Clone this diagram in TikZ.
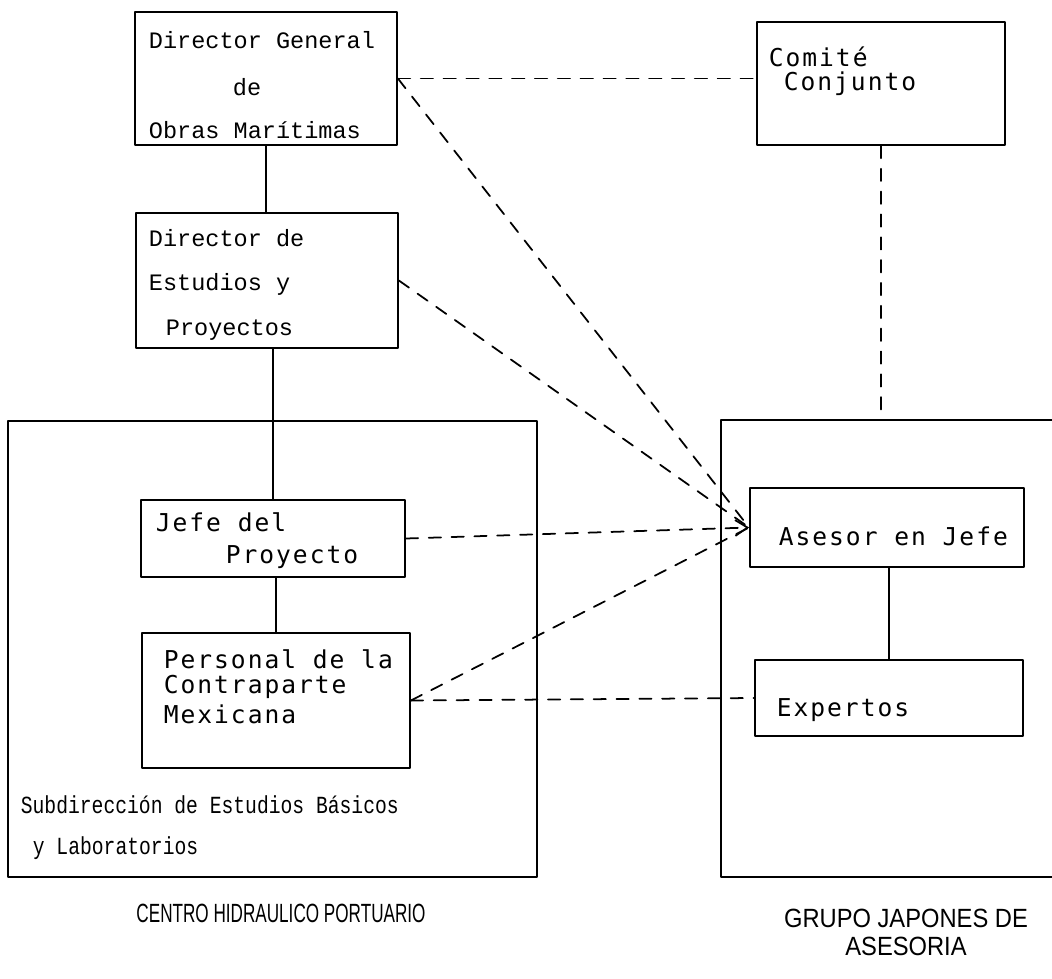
\documentclass[tikz,border=0pt]{standalone}
\usepackage{fontspec}
\usetikzlibrary{fit,arrows.meta}
\newfontfamily\typefont{Liberation Mono}
\newfontfamily\narrowfont[FakeStretch=0.8]{Liberation Mono}
\newfontfamily\gothfont[LetterSpace=8]{DejaVu Sans Mono}
\newfontfamily\capsfont[FakeStretch=0.65]{Liberation Sans}
\newfontfamily\grupofont[FakeStretch=0.9]{Liberation Sans}
\begin{document}
\begin{tikzpicture}[x=0.02cm, y=-0.02cm, line width=1pt, line join=round, line cap=round,
  >={Straight Barb[length=7pt,width=9pt]},
  box/.style={draw, inner sep=0pt},
  dsh/.style={dash pattern=on 7pt off 6pt},
  txt/.style={anchor=west, inner sep=0pt},
  tw/.style={txt, font=\typefont\fontsize{13.4}{16}\selectfont},
  gw/.style={txt, font=\gothfont\fontsize{14}{16}\selectfont},
  nw/.style={txt, font=\narrowfont\fontsize{14}{16}\selectfont},
  cw/.style={anchor=center, inner sep=0pt, font=\capsfont\fontsize{15}{17}\selectfont},
  gj/.style={cw, font=\grupofont\fontsize{15}{17}\selectfont}]
\useasboundingbox (0,0) rectangle (1052,978);
\clip (0,0) rectangle (1052,978);
% boxes
\node[box, fit={(135,12) (397,145)}] (dg) {};
\node[box, fit={(757,22) (1005,145)}] (cc) {};
\node[box, fit={(136,213) (398,348)}] (de) {};
\node[box, fit={(8,421) (537,877)}] (chp) {};
\node[box, fit={(141,500) (405,577)}] (jp) {};
\node[box, fit={(142,633) (410,768)}] (pc) {};
\node[box, fit={(721,420) (1070,877)}] (gja) {};
\node[box, fit={(750,488) (1024,567)}] (aj) {};
\node[box, fit={(755,660) (1023,736)}] (ex) {};
% texts
\node[tw] (dg1) at (148,40) {Director General};
\node[tw] (dg2) at (232,87) {de};
\node[tw] (dg3) at (148,130) {Obras Marítimas};
\node[gw] (cc1) at (768,57) {Comité};
\node[gw] (cc2) at (783,84) {Conjunto};
\node[tw] (de1) at (148,238) {Director de};
\node[tw] (de2) at (148,284) {Estudios y};
\node[tw] (de3) at (165,330) {Proyectos};
\node[gw] (jp1) at (155,522) {Jefe del};
\node[gw] (jp2) at (225,557) {Proyecto};
\node[gw] (pc1) at (163,659) {Personal de la};
\node[gw] (pc2) at (163,687) {Contraparte};
\node[gw] (pc3) at (163,714) {Mexicana};
\node[gw] (aj1) at (778,536) {Asesor en Jefe};
\node[gw] (ex1) at (776,710) {Expertos};
\node[nw] (chp1) at (20,805) {Subdirección de Estudios Básicos};
\node[nw] (chp2) at (32,848) {y Laboratorios};
\node[cw] (lab1) at (281,913) {CENTRO HIDRAULICO PORTUARIO};
\node[gj] (lab2) at (906,918) {GRUPO JAPONES DE};
\node[gj] (lab3) at (906,946) {ASESORIA};
% solid links
\draw (dg.south) -- (dg.south |- de.north);
\draw (jp.north) -- (jp.north |- de.south);
\draw (pc.north) -- (pc.north |- jp.south);
\draw (ex.north) -- (ex.north |- aj.south);
% dashed links
\draw[dsh] (dg.east) -- (cc.west |- dg.east);
\draw[dsh] (cc.south) -- (cc.south |- gja.north);
\draw[dsh] (dg.east) -- (aj.west);
\draw[dsh] (de.east) -- (aj.west);
\draw[dsh,->] (jp.east) -- (aj.west);
\draw[dsh] (pc.east) -- (aj.west);
\draw[dsh] (pc.east) -- (ex.west);
\end{tikzpicture}
\end{document}
